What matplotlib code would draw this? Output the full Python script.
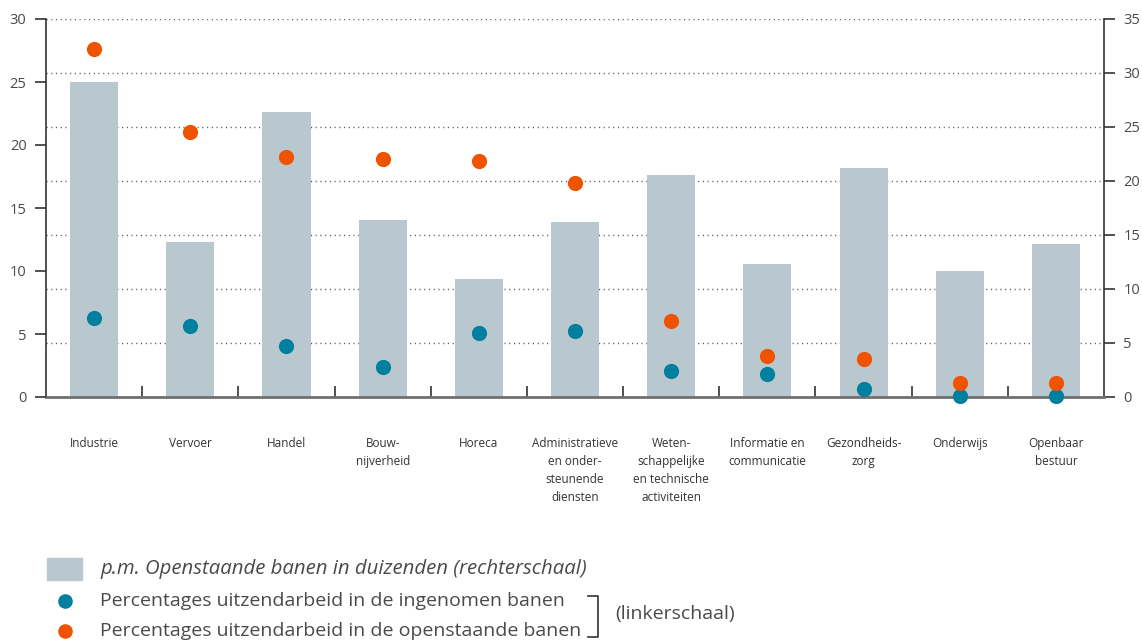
import matplotlib.pyplot as plt
from matplotlib.patches import Rectangle
from matplotlib.lines import Line2D
import numpy as np

plt.rcParams['font.family'] = ['Open Sans', 'DejaVu Sans']
plt.rcParams['text.color'] = '#4a4a4a'

# Data
sectors = ['Industrie', 'Vervoer', 'Handel', 'Bouw-\nnijverheid', 'Horeca',
           'Administratieve\nen onder-\nsteunende\ndiensten',
           'Weten-\nschappelijke\nen technische\nactiviteiten',
           'Informatie en\ncommunicatie', 'Gezondheids-\nzorg', 'Onderwijs',
           'Openbaar\nbestuur']
vacancies = [29.2, 14.35, 26.4, 16.4, 10.9, 16.2, 20.55, 12.3, 21.2, 11.65, 14.15]
temp_filled = [6.3, 5.6, 4.05, 2.35, 5.1, 5.2, 2.05, 1.8, 0.6, 0.1, 0.1]
temp_open = [27.6, 21.0, 19.05, 18.85, 18.75, 17.0, 6.05, 3.25, 3.05, 1.15, 1.15]

bar_col = '#b9c8cf'
teal = '#007f9e'
orange = '#f05300'
axis_col = '#333333'

fig = plt.figure(figsize=(11.42, 6.41), dpi=100)
ax = fig.add_axes([46/1142, 1 - 397/641, (1104 - 46)/1142, (397 - 19)/641])
ax2 = ax.twinx()
x = np.arange(len(sectors))

# Bars on the right-hand scale
ax.bar(x, vacancies, width=0.5, color=bar_col, zorder=2)
ax.set_xlim(-0.5, len(sectors) - 0.5)
ax.set_ylim(0, 35)
ax.set_yticks(range(0, 36, 5))
ax.yaxis.tick_right()
ax.set_axisbelow(True)
ax.yaxis.grid(True, color='#555555', linestyle=(0, (0.8, 2.6)), linewidth=1.0)
ax.tick_params(axis='y', direction='out', length=8, width=1.2, color=axis_col,
               labelsize=10.5, labelcolor='#4a4a4a', pad=6)

# Category labels, with separator ticks between sectors
ax.set_xticks(x)
ax.set_xticklabels(sectors, fontsize=8.5, linespacing=1.5, va='top')
ax.tick_params(axis='x', which='major', length=0, pad=29, labelcolor='#333333')
ax.set_xticks(np.arange(0.5, len(sectors) - 1, 1), minor=True)
ax.tick_params(axis='x', which='minor', direction='in', length=8, width=1.2,
               color=axis_col)

ax.spines['top'].set_visible(False)
ax.spines['bottom'].set_color('#707070')
ax.spines['bottom'].set_linewidth(2)
for side in ['left', 'right']:
    ax.spines[side].set_color(axis_col)
    ax.spines[side].set_linewidth(1.2)

# Percentages on the left-hand scale
ax2.set_ylim(0, 30)
ax2.set_yticks(range(0, 31, 5))
ax2.yaxis.tick_left()
ax2.tick_params(axis='y', direction='out', length=8, width=1.2, color=axis_col,
                labelsize=10.5, labelcolor='#4a4a4a', pad=6)
for s in ax2.spines.values():
    s.set_visible(False)
ax2.scatter(x, temp_filled, s=120, color=teal, zorder=4, clip_on=False, lw=0)
ax2.scatter(x, temp_open, s=120, color=orange, zorder=4, clip_on=False, lw=0)

# Legend
W, H = 1142, 641
fig.patches.append(Rectangle((47/W, 1 - 580/H), 35/W, 22/H, color=bar_col,
                             transform=fig.transFigure, figure=fig))
fig.text(100/W, 1 - 569/H, 'p.m. Openstaande banen in duizenden (rechterschaal)',
         style='italic', fontsize=14.7, va='center')
for yy, col, txt in [(601, teal, 'Percentages uitzendarbeid in de ingenomen banen'),
                     (631, orange, 'Percentages uitzendarbeid in de openstaande banen')]:
    fig.add_artist(Line2D([65/W], [1 - yy/H], marker='o', markersize=10.5,
                          color=col, markeredgewidth=0, transform=fig.transFigure))
    fig.text(100/W, 1 - yy/H, txt, fontsize=14, va='center')

# Bracket joining the two dot series
bx = [588/W, 598/W, 598/W, 588/W]
by = [1 - 596/H, 1 - 596/H, 1 - 637/H, 1 - 637/H]
fig.add_artist(Line2D(bx, by, color='#333333', lw=1.2, transform=fig.transFigure))
fig.text(615/W, 1 - 614/H, '(linkerschaal)', fontsize=14, va='center')

fig.savefig('out.png', dpi=100)
